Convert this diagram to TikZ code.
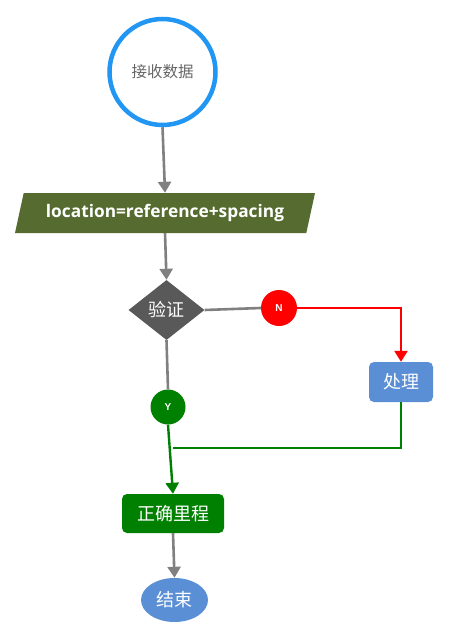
\documentclass[tikz,border=0pt]{standalone}
\usepackage{fontspec}
\setmainfont{Open Sans}
\newfontfamily\cjk{Noto Sans CJK SC}
\newfontfamily\arial{Liberation Sans}
\usetikzlibrary{shapes.geometric,arrows.meta}
\definecolor{cblue}{HTML}{2196F3}
\definecolor{olive}{HTML}{556B2F}
\definecolor{dgray}{HTML}{595959}
\definecolor{lblue}{HTML}{5A8FD6}
\definecolor{agray}{HTML}{808080}
\definecolor{cgreen}{HTML}{008000}
\definecolor{cred}{HTML}{FF0000}
\tikzset{
  conn/.style={line width=2.6pt, draw=agray, -{Triangle[length=11pt,width=13pt]}},
  plain/.style={line width=2.6pt, draw=agray},
  redc/.style={line width=2.4pt, draw=cred, -{Triangle[length=11pt,width=13pt]}},
  greenc/.style={line width=2.4pt, draw=cgreen},
  greena/.style={line width=2.4pt, draw=cgreen, -{Triangle[length=11pt,width=13pt]}},
  cn/.style={text=white, font=\cjk\fontsize{18}{20}\selectfont, inner sep=0pt},
  lab/.style={circle, minimum size=36pt, inner sep=0pt, text=white, font=\arial\bfseries\fontsize{10}{11}\selectfont},
}
\begin{document}
\begin{tikzpicture}[x=1pt,y=-1pt]
\useasboundingbox (0,0) rectangle (450,639);
\node[circle, draw=cblue, line width=4.5pt, fill=white, minimum size=106pt, inner sep=0pt,
      text=black!60, font=\cjk\fontsize{15.5}{17}\selectfont] (start) at (162.5,72) {接收数据};
\node[trapezium, trapezium left angle=63.4, trapezium right angle=116.6, trapezium stretches body,
      minimum width=300pt, minimum height=40pt, inner sep=0pt, fill=olive, text=white,
      font=\bfseries\fontsize{17.3}{19}\selectfont] (loc) at (165,213) {location=reference+spacing};
\node[diamond, fill=dgray, minimum width=76pt, minimum height=60pt, cn] (ver) at (166.5,310) {验证};
\node[lab, fill=cred] (N) at (279,308) {N};
\node[rectangle, rounded corners=5pt, fill=lblue, minimum width=64pt, minimum height=40pt, cn] (proc) at (401,382) {处理};
\node[lab, fill=cgreen, minimum size=35pt] (Y) at (168,407) {Y};
\node[rectangle, rounded corners=5pt, fill=cgreen, minimum width=102pt, minimum height=39pt, cn] (ok) at (173,513.5) {正确里程};
\node[ellipse, fill=lblue, minimum width=67pt, minimum height=44pt, cn] (end) at (174.5,600) {结束};
\coordinate (j) at (173,448);
\draw[conn] (start.south) -- (loc.north);
\draw[conn] (loc.south) -- (ver.north);
\draw[plain] (ver.east) -- (N.west);
\draw[redc] (N.east) -| (proc.north);
\draw[plain] (ver.south) -- (Y.north);
\draw[greena] (Y.south) -- (ok.north);
\draw[greenc] (proc.south) |- (j);
\draw[conn] (ok.south) -- (end.north);
\end{tikzpicture}
\end{document}
